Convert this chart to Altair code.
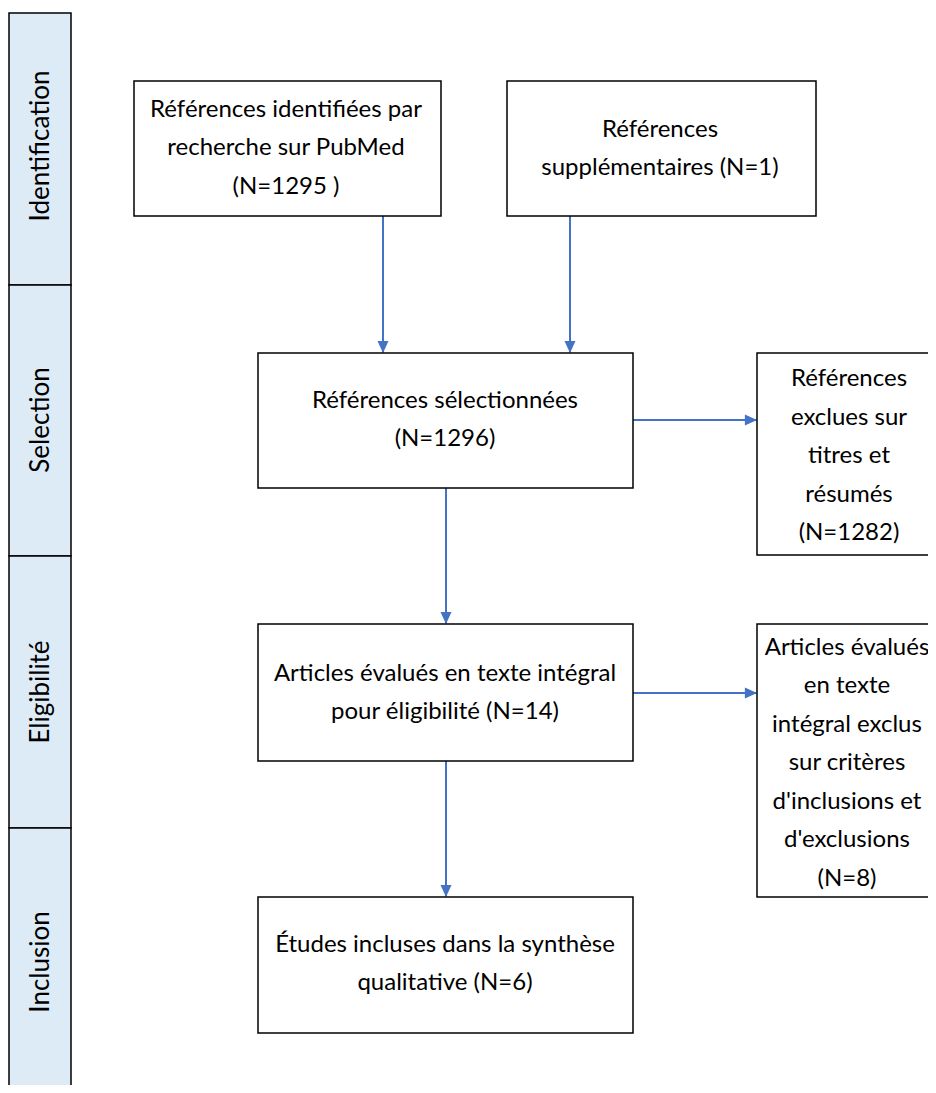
import altair as alt
import pandas as pd

# ---- content ----
phases = ["Identification", "Selection", "Eligibilité", "Inclusion"]
box_texts = [
    "Références identifiées par\nrecherche sur PubMed\n(N=1295 )",
    "Références\nsupplémentaires (N=1)",
    "Références sélectionnées\n(N=1296)",
    "Références\nexclues sur\ntitres et\nrésumés\n(N=1282)",
    "Articles évalués en texte intégral\npour éligibilité (N=14)",
    "Articles évalués\nen texte\nintégral exclus\nsur critères\nd'inclusions et\nd'exclusions\n(N=8)",
    "Études incluses dans la synthèse\nqualitative (N=6)",
]

# ---- layout (pixel coordinates of the picture) ----
phase_x0 = [9, 9, 9, 9]
phase_x1 = [71, 71, 71, 71]
phase_y0 = [13, 285, 556, 828]
phase_y1 = [285, 556, 828, 1110]
phase_label_y = [146, 420, 692, 962]

box_x0 = [134, 507, 258, 757, 258, 757, 258]
box_x1 = [441, 816, 633, 935, 633, 935, 633]
box_y0 = [81, 81, 353, 353, 624, 624, 897]
box_y1 = [216, 216, 488, 555, 761, 897, 1033]
text_cx = [286, 660, 445, 849, 445, 847, 445]
text_cy = [148, 149, 420, 456, 693, 763, 964]

# arrows: start -> end
arrow_x0 = [383, 570, 446, 446, 633, 633]
arrow_y0 = [216, 216, 488, 761, 420, 693]
arrow_x1 = [383, 570, 446, 446, 757, 757]
arrow_y1 = [353, 353, 624, 897, 420, 693]
arrow_dir = ["down", "down", "down", "down", "right", "right"]

FONT = "Lato"
FS = 24
FS_SIDE = 26
LH = 38.5
BLUE = "#4472C4"

phase_df = pd.DataFrame({
    "label": phases, "x0": phase_x0, "x1": phase_x1,
    "y0": phase_y0, "y1": phase_y1, "ly": phase_label_y,
})
phase_df["lx"] = (phase_df.x0 + phase_df.x1) / 2 + 1

box_df = pd.DataFrame({
    "label": box_texts, "x0": box_x0, "x1": box_x1, "y0": box_y0, "y1": box_y1,
    "cx": text_cx, "cy": text_cy,
})
nlines = box_df.label.str.count("\n")
box_df["ty"] = box_df.cy - nlines * LH / 2

arrow_df = pd.DataFrame({
    "x0": arrow_x0, "y0": arrow_y0, "x1": arrow_x1, "y1": arrow_y1, "dir": arrow_dir,
})

W, H = 920, 1077
xs = alt.Scale(domain=[8, 8 + W], nice=False, zero=False)
ys = alt.Scale(domain=[8, 8 + H], nice=False, zero=False, reverse=True)


def X(f):
    return alt.X(f"{f}:Q", scale=xs, axis=None)


def Y(f):
    return alt.Y(f"{f}:Q", scale=ys, axis=None)


phase_rect = alt.Chart(phase_df).mark_rect(
    fill="#DDEBF7", stroke="black", strokeWidth=1.5
).encode(x=X("x0"), x2="x1", y=Y("y0"), y2="y1")

phase_text = alt.Chart(phase_df).mark_text(
    angle=270, align="center", baseline="middle", font=FONT, fontSize=FS_SIDE, color="black"
).encode(x=X("lx"), y=Y("ly"), text="label:N")

box_rect = alt.Chart(box_df).mark_rect(
    fill="white", stroke="black", strokeWidth=1.5
).encode(x=X("x0"), x2="x1", y=Y("y0"), y2="y1")

box_text = alt.Chart(box_df).mark_text(
    align="center", baseline="middle", lineBreak="\n", lineHeight=LH,
    font=FONT, fontSize=FS, color="black"
).encode(x=X("cx"), y=Y("ty"), text="label:N")

arrow_line = alt.Chart(arrow_df).mark_rule(
    color=BLUE, strokeWidth=2
).encode(x=X("x0"), y=Y("y0"), x2="x1", y2="y1")

head_down = alt.Chart(arrow_df).transform_filter(
    alt.datum.dir == "down"
).mark_point(
    shape="M-1,-2.2L1,-2.2L0,0Z", filled=True, size=121, color=BLUE, opacity=1, strokeWidth=0
).encode(x=X("x1"), y=Y("y1"))

head_right = alt.Chart(arrow_df).transform_filter(
    alt.datum.dir == "right"
).mark_point(
    shape="M-2.2,-1L-2.2,1L0,0Z", filled=True, size=121, color=BLUE, opacity=1, strokeWidth=0
).encode(x=X("x1"), y=Y("y1"))

chart = alt.layer(
    phase_rect, phase_text, arrow_line, box_rect, box_text, head_down, head_right
).properties(
    width=W, height=H, padding=0,
    autosize=alt.AutoSizeParams(type="none"),
    background="white",
).configure_view(stroke=None)

chart.save("out.html", embed_options={"renderer": "svg", "actions": False})
